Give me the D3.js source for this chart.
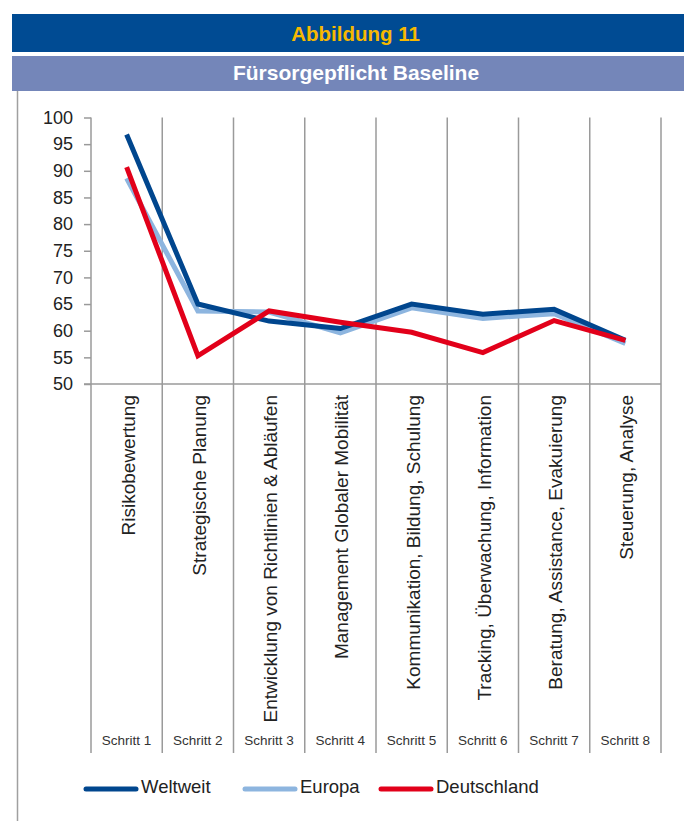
<!DOCTYPE html>
<html><head><meta charset="utf-8">
<script src="https://cdn.jsdelivr.net/npm/d3@7"></script>
<style>
html,body{margin:0;padding:0;background:#fff;}
svg{display:block;font-family:"Liberation Sans",Arial,Helvetica,sans-serif;}
</style></head>
<body>
<svg id="chart" width="684" height="821"></svg>
<script>
const title = "Abbildung 11";
const subtitle = "Fürsorgepflicht Baseline";
const categories = ["Risikobewertung", "Strategische Planung", "Entwicklung von Richtlinien & Abläufen", "Management Globaler Mobilität", "Kommunikation, Bildung, Schulung", "Tracking, Überwachung, Information", "Beratung, Assistance, Evakuierung", "Steuerung, Analyse"];
const steps = ["Schritt 1", "Schritt 2", "Schritt 3", "Schritt 4", "Schritt 5", "Schritt 6", "Schritt 7", "Schritt 8"];
const seriesNames = ["Weltweit", "Europa", "Deutschland"];
const weltweit = [96.8, 65.0, 61.8, 60.4, 65.0, 63.1, 64.0, 58.2];
const europa = [88.6, 63.7, 63.5, 59.6, 64.3, 62.3, 63.2, 57.6];
const deutschland = [90.7, 55.3, 63.7, 61.6, 59.7, 55.9, 61.9, 58.2];
const yTicks = [50, 55, 60, 65, 70, 75, 80, 85, 90, 95, 100];

const colors = {"Weltweit": "#00468e", "Europa": "#8db5df", "Deutschland": "#e2001a"};
const seriesData = {"Weltweit": weltweit, "Europa": europa, "Deutschland": deutschland};

const svg = d3.select("#chart");

// header bars
svg.append("rect").attr("x", 12).attr("y", 14).attr("width", 672).attr("height", 38).attr("fill", "#004b93");
svg.append("text").attr("x", 355.5).attr("y", 41).attr("text-anchor", "middle")
  .attr("font-size", 20.5).attr("font-weight", "bold").attr("fill", "#f6b800").text(title);
svg.append("rect").attr("x", 12).attr("y", 56).attr("width", 672).attr("height", 35).attr("fill", "#7486b9");
svg.append("text").attr("x", 356).attr("y", 79.5).attr("text-anchor", "middle")
  .attr("font-size", 21).attr("font-weight", "bold").attr("fill", "#ffffff").text(subtitle);

// left border
svg.append("line").attr("x1", 17.5).attr("x2", 17.5).attr("y1", 91).attr("y2", 821)
  .attr("stroke", "#a0a0a0").attr("stroke-width", 1.5);

const x = d3.scaleBand().domain(d3.range(categories.length)).range([91, 661]);
const y = d3.scaleLinear().domain([50, 100]).range([384, 117.5]);

const grid = "#9a9a9a";
// vertical band separators
const bounds = d3.range(categories.length + 1).map(i => i < categories.length ? x(i) : x(i - 1) + x.bandwidth());
svg.append("g").selectAll("line").data(bounds).join("line")
  .attr("x1", d => d).attr("x2", d => d).attr("y1", y(100)).attr("y2", 753)
  .attr("stroke", grid).attr("stroke-width", 1.5);

// y axis
const yAxis = d3.axisLeft(y).tickValues(yTicks).tickSize(7).tickPadding(11);
const yg = svg.append("g").attr("transform", "translate(91,0)").call(yAxis);
yg.select(".domain").remove();
yg.selectAll(".tick line").attr("stroke", grid).attr("stroke-width", 1.5);
yg.selectAll(".tick text").attr("font-size", 18).attr("fill", "#222")
  .attr("font-family", "'Liberation Sans',Arial,sans-serif");

// x axis line
svg.append("line").attr("x1", 84).attr("x2", 661).attr("y1", y(50)).attr("y2", y(50))
  .attr("stroke", grid).attr("stroke-width", 1.5);

// rotated category labels
svg.append("g").selectAll("text").data(categories).join("text")
  .attr("transform", (d, i) => `translate(${x(i) + x.bandwidth() / 2 + 8},395) rotate(-90)`)
  .attr("text-anchor", "end").attr("font-size", 19).attr("fill", "#222").text(d => d);

// step labels
svg.append("g").selectAll("text").data(steps).join("text")
  .attr("x", (d, i) => x(i) + x.bandwidth() / 2).attr("y", 745)
  .attr("text-anchor", "middle").attr("font-size", 13.5).attr("fill", "#333").text(d => d);

// lines
const line = d3.line().x((d, i) => x(i) + x.bandwidth() / 2).y(d => y(d));
["Europa", "Weltweit", "Deutschland"].forEach(name => {
  svg.append("path").datum(seriesData[name]).attr("d", line)
    .attr("fill", "none").attr("stroke", colors[name]).attr("stroke-width", 5)
    .attr("stroke-linejoin", "miter").attr("stroke-linecap", "butt");
});

// legend
const legendX = [86, 245, 381];
const lg = svg.append("g");
seriesNames.forEach((name, i) => {
  lg.append("line").attr("x1", legendX[i]).attr("x2", legendX[i] + 50).attr("y1", 789).attr("y2", 789)
    .attr("stroke", colors[name]).attr("stroke-width", 5).attr("stroke-linecap", "round");
  lg.append("text").attr("x", legendX[i] + 55).attr("y", 792.5).attr("font-size", 18.5)
    .attr("fill", "#222").text(name);
});
</script>
</body></html>
